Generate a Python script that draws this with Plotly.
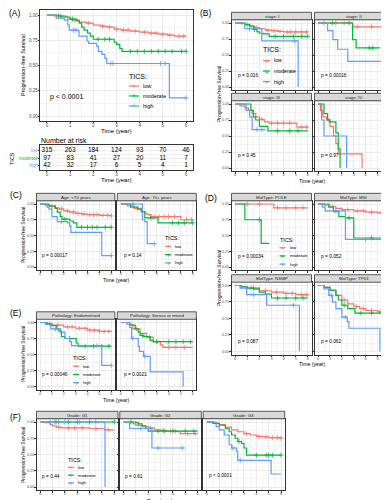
import plotly.graph_objects as go

# ---------------- data ----------------
GROUPS = ["low", "moderate", "high"]
COLORS = {"low": "#F8766D", "moderate": "#00BA38", "high": "#619CFF"}
X_TICKS = [0, 1, 2, 3, 4, 5, 6]
Y_TICKS = [0, 0.25, 0.5, 0.75, 1.0]
Y_TICKTEXT = ["0.00", "0.25", "0.50", "0.75", "1.00"]

# each curve: (step times, survival after step, censor times)
A_LOW = ([0, 0.3, 0.6, 0.9, 1.1, 1.4, 1.7, 2.0, 2.3, 2.6, 2.9, 3.2, 3.6, 4.0, 4.4, 4.8, 5.2, 5.5, 6.0],
         [1, 0.99, 0.98, 0.96, 0.95, 0.93, 0.92, 0.90, 0.89, 0.88, 0.86, 0.85, 0.84, 0.83, 0.82, 0.81, 0.80, 0.79, 0.79],
         [0.5, 1.2, 1.8, 2.4, 2.7, 3.0, 3.3, 3.5, 3.8, 4.2, 4.5, 4.7, 5.0, 5.3, 5.7, 5.9])
A_MOD = ([0, 0.5, 0.8, 1.0, 1.3, 1.4, 1.5, 1.6, 1.75, 1.87, 2.0, 2.9, 3.0, 3.14, 3.24, 6.0],
         [1, 0.99, 0.98, 0.96, 0.94, 0.92, 0.88, 0.85, 0.82, 0.79, 0.76, 0.73, 0.71, 0.67, 0.64, 0.64],
         [0.6, 1.1, 2.2, 2.5, 2.7, 3.6, 3.9, 4.2, 4.5, 4.8, 5.1, 5.4, 5.8, 6.0])
A_HIGH = ([0, 0.4, 0.75, 0.9, 0.96, 1.38, 1.73, 1.8, 2.15, 2.22, 2.37, 2.5, 2.58, 5.28, 6.0],
          [1, 0.97, 0.95, 0.90, 0.85, 0.79, 0.74, 0.72, 0.69, 0.64, 0.61, 0.57, 0.52, 0.18, 0.18],
          [1.15, 1.25, 2.75, 2.85, 4.9, 5.1, 6.0])

RISK_TIMES = [0, 1, 2, 3, 4, 5, 6]
RISK_LOW = [315, 263, 184, 124, 93, 70, 46]
RISK_MOD = [97, 83, 41, 27, 20, 11, 7]
RISK_HIGH = [42, 32, 17, 6, 5, 4, 1]

B1_LOW = ([0, .4, .8, 1.2, 1.6, 2.0, 2.5, 3.0, 3.5, 4.0, 6.0], [1, .99, .97, .95, .93, .91, .89, .88, .87, .86, .86],
          [1.0, 1.8, 2.7, 3.2, 3.7, 4.3, 4.6, 5.0, 5.5, 5.9])
B1_MOD = ([0, .8, 1.2, 1.5, 1.8, 2.0, 2.3, 2.8, 6.0], [1, .98, .95, .90, .86, .84, .83, .79, .79], [1.6, 3.3, 4.0, 4.8, 5.5, 6.0])
B1_HIGH = ([0, .8, 2.2, 5.2], [1, .91, .72, 0], [1.2, 4.9])
B2_LOW = ([0, 2.9, 6.0], [1, .94, .94], [.5, 1.5, 2.2, 3.3, 4.5, 5.8])
B2_MOD = ([0, 2.9, 3.2, 5.2], [1, .74, .61, .61], [1.2, 2.6, 4.3, 4.6])
B2_HIGH = ([0, .8, 1.25, 1.65, 2.5, 6.0], [1, .88, .74, .59, .40, .40], [])
B3_LOW = ([0, .4, .8, 1.1, 1.4, 1.7, 2.0, 2.4, 2.8, 5.1, 6.0], [1, .97, .94, .90, .85, .80, .76, .72, .70, .64, .64],
          [2.2, 3.0, 3.5, 4.0, 4.5, 5.5, 5.9])
B3_MOD = ([0, 1.3, 1.5, 1.7, 2.0, 2.7, 6.0], [1, .90, .80, .75, .65, .58, .58], [3.5, 4.5, 5.2])
B3_HIGH = ([0, .9, 1.2, 1.4, 2.5], [1, .9, .8, .6, .6], [1.8, 2.2])
B4_LOW = ([0, .2, .4, .7, 1.0, 1.3, 1.5, 1.7, 3.7], [1, .9, .8, .75, .65, .5, .38, .22, 0], [.9])
B4_MOD = ([0, .5, .8, 1.0, 1.5, 1.7, 1.85], [1, .85, .75, .72, .55, .3, 0], [])
B4_HIGH = ([0, .3, .5, 2.4], [1, .75, .5, 0], [])

C1_LOW = ([0, .4, .8, 1.2, 1.6, 2.0, 2.5, 3.0, 3.5, 4.0, 5.0, 6.0], [1, .98, .96, .94, .92, .89, .87, .85, .84, .83, .82, .81],
          [1.0, 1.8, 2.3, 2.8, 3.2, 3.7, 4.2, 4.5, 4.8, 5.3, 5.7, 6.0])
C1_MOD = ([0, .75, 1.3, 1.45, 1.7, 1.85, 2.5, 2.8, 3.1, 6.0], [1, .97, .93, .87, .80, .76, .73, .70, .63, .63],
          [2.1, 3.5, 4.0, 4.4, 4.8, 5.5, 6.0])
C1_HIGH = ([0, .6, .75, 1.0, 1.45, 2.3, 2.5, 2.6, 5.2, 6.0], [1, .95, .92, .80, .72, .70, .65, .55, .18, .18], [1.8, 6.0])
C2_LOW = ([0, .55, 1.1, 1.7, 2.0, 2.2, 2.5, 5.0, 6.0], [1, .97, .93, .88, .85, .83, .80, .75, .74],
          [1.4, 2.8, 3.2, 3.6, 4.0, 4.5, 5.5, 5.9])
C2_MOD = ([0, .8, 1.4, 1.7, 2.0, 3.1, 6.0], [1, .95, .92, .88, .78, .70, .70], [2.5, 4.3, 4.8, 5.3, 6.0])
C2_HIGH = ([0, 1.8, 2.0, 2.2, 2.8], [1, .75, .72, .37, .37], [1.0, 2.8])

D1_LOW = ([0, 3.2, 6.0], [1, .94, .94], [1.0, 2.0, 3.5, 4.2, 5.0, 5.6])
D1_MOD = ([0, .8, 2.15, 2.8], [1, .75, .375, .375], [2.0])
D1_HIGH = ([], [], [])
D2_LOW = ([0, .5, 1.0, 1.5, 2.0, 3.0, 4.0, 5.0, 6.0], [1, .98, .96, .93, .91, .89, .87, .86, .86],
          [1.2, 2.5, 3.3, 3.8, 4.5, 5.3, 5.8])
D2_MOD = ([0, .9, 1.3, 1.75, 2.3, 3.0, 6.0], [1, .95, .88, .80, .78, .46, .46], [2.6, 4.5, 5.5])
D2_HIGH = ([0, .35, .6, 2.3, 6.0], [1, .95, .89, .44, .44], [1.5, 4.0])
D3_LOW = ([0, .5, 1.0, 1.5, 2.0, 3.0, 4.0, 5.0, 6.0], [1, .98, .96, .94, .92, .90, .88, .86, .85],
          [1.3, 2.5, 3.4, 4.2, 4.7, 5.5, 5.9])
D3_MOD = ([0, .5, 1.0, 2.0, 2.5, 3.0, 6.0], [1, .98, .96, .90, .87, .81, .81], [1.5, 3.5, 4.2, 5.0, 5.6])
D3_HIGH = ([0, .4, .95, 2.6, 5.3], [1, .96, .86, .70, 0], [1.5, 4.8])
D4_LOW = ([0, .5, 1.0, 1.5, 2.0, 2.5, 3.0, 3.5, 4.0, 5.0, 6.0], [1, .97, .92, .85, .78, .72, .68, .65, .62, .60, .59],
          [2.2, 3.2, 3.8, 4.5, 5.2, 5.8])
D4_MOD = ([0, .5, 1.0, 1.5, 1.7, 2.0, 2.5, 3.1, 6.0], [1, .97, .93, .85, .78, .70, .65, .58, .58], [2.2, 3.6, 4.5, 5.5])
D4_HIGH = ([0, .5, .9, 1.2, 1.5, 2.0, 2.45, 2.6, 5.2], [1, .95, .85, .75, .65, .52, .45, .35, 0], [1.1, 2.3])

E1_LOW = ([0, .5, 1, 2, 3, 4, 5, 6], [1, .98, .96, .93, .91, .88, .86, .85],
          [.8, 1.5, 2.3, 2.7, 3.3, 3.8, 4.2, 4.6, 5.0, 5.4, 5.8])
E1_MOD = ([0, .6, 1.0, 1.4, 1.7, 1.8, 2.1, 3.05, 3.2, 6.0], [1, .98, .95, .90, .85, .78, .75, .68, .63, .63],
          [2.5, 3.8, 4.5, 5.2, 5.8])
E1_HIGH = ([0, .45, .9, 1.55, 1.8, 2.1, 2.5, 2.65, 5.2, 6.0], [1, .97, .90, .87, .85, .75, .70, .64, .33, .33], [1.3, 4.8, 6.0])
E2_LOW = ([0, .5, 1.0, 1.6, 2.15, 2.7, 3.3, 3.5, 6.0], [1, .97, .90, .83, .77, .70, .65, .61, .61], [1.3, 2.4, 3.0, 4.0, 4.6, 5.3])
E2_MOD = ([0, .75, 1.2, 1.45, 1.6, 1.9, 2.45, 2.7, 6.0], [1, .96, .90, .85, .80, .78, .72, .70, .70],
          [1.8, 3.0, 4.0, 4.6, 5.2, 5.8])
E2_HIGH = ([0, .75, .9, 1.45, 1.55, 1.9, 2.45, 5.2], [1, .92, .75, .63, .55, .47, .23, 0], [1.0, 2.0])

F1_LOW = ([0, .3, .8, 1.0, 1.3, 1.7, 4.0, 5.2, 6.0], [1, .99, .96, .94, .92, .91, .90, .88, .88], [1.5, 2.3, 2.8, 3.4, 4.5, 5.5])
F1_MOD = ([0, 6.0], [1, 1], [1.2, 1.5, 2.3, 3.0, 4.0, 6.0])
F1_HIGH = ([0, 5.25], [1, 0], [.8, 1.3, 2.0, 3.2, 4.5])
F2_LOW = ([0, .3, .8, 1.0, 1.5, 2.0, 2.5, 3.0, 3.5, 4.4, 4.6, 6.0], [1, .99, .97, .95, .93, .91, .88, .87, .86, .85, .82, .82],
          [1.2, 2.2, 3.2, 3.8, 4.2, 5.2, 5.8])
F2_MOD = ([0, 1.0, 1.2, 1.5, 1.8, 2.0, 6.0], [1, .99, .97, .94, .90, .86, .86], [.6, 2.8, 3.3, 4.0, 5.0, 5.7])
F2_HIGH = ([0, .5, 2.3, 4.8], [1, .90, .60, .60], [1.4, 2.8, 4.8])
F3_LOW = ([0, .5, 1, 1.5, 2, 2.5, 3, 3.5, 4, 4.5, 5, 6], [1, .98, .96, .92, .88, .85, .82, .80, .78, .77, .76, .75],
          [3.2, 4.2, 4.8, 5.3, 5.7, 6.0])
F3_MOD = ([0, .5, 1, 1.5, 1.8, 2, 2.3, 2.5, 2.8, 3.0, 3.2, 6], [1, .98, .95, .90, .85, .80, .75, .70, .67, .60, .49, .49],
          [2.6, 4.0, 4.8, 5.0, 5.3, 6.0])
F3_HIGH = ([0, .75, 1.0, 1.4, 1.8, 2.0, 2.4, 2.5, 5.2, 6.0], [1, .93, .88, .80, .65, .60, .55, .41, .20, .20], [2.1, 2.7])

# ---------------- layout helpers ----------------
W, H = 389, 500
FONT = "Liberation Sans, Arial, sans-serif"
BORDER = "#333333"
GRID = "#EBEBEB"
TICKC = "#4D4D4D"

fig = go.Figure()
layout = {}
shapes = []
annots = []
count = [0]


def px(x):
    return x / W


def py(y):
    return 1 - y / H


def text(x, y, s, size, color="black", xa="center", ya="middle", angle=0):
    annots.append(dict(x=px(x), y=py(y), xref="paper", yref="paper", text=s, showarrow=False,
                       xanchor=xa, yanchor=ya, textangle=angle, borderpad=0,
                       font=dict(size=size, color=color, family=FONT)))


def panel(box, curves=None, xlab=True, ylab=True, strip=None, tick_size=4.2, yrange=(-0.05, 1.05),
          ytickvals=Y_TICKS, yticktext=Y_TICKTEXT, yminor=0.125):
    x0, x1, y1p, y0p = box
    span = y0p - y1p
    top = y1p - 0.05 * span
    bot = y0p + 0.05 * span
    count[0] += 1
    n = count[0]
    sx = "" if n == 1 else str(n)
    layout["xaxis" + sx] = dict(
        domain=[px(x0), px(x1)], range=[-0.3, 6.3], anchor="y" + sx,
        tickmode="array", tickvals=X_TICKS, ticktext=[str(v) for v in X_TICKS],
        showticklabels=xlab, ticks="outside", ticklen=1.5, tickwidth=0.6, tickcolor=BORDER,
        ticklabelstandoff=-2,
        tickfont=dict(size=tick_size, color=TICKC, family=FONT),
        showgrid=True, gridcolor=GRID, gridwidth=0.8, zeroline=False,
        minor=dict(tickmode="linear", tick0=0, dtick=0.5, showgrid=True, gridcolor="#F3F3F3", gridwidth=0.4),
        showline=True, mirror=True, linecolor=BORDER, linewidth=0.8, fixedrange=True)
    layout["yaxis" + sx] = dict(
        domain=[py(bot), py(top)], range=list(yrange), anchor="x" + sx,
        tickmode="array", tickvals=ytickvals, ticktext=yticktext,
        showticklabels=ylab, ticks="outside", ticklen=1.5, tickwidth=0.6, tickcolor=BORDER,
        ticklabelstandoff=-1,
        tickfont=dict(size=tick_size, color=TICKC, family=FONT),
        showgrid=True, gridcolor=GRID, gridwidth=0.8, zeroline=False,
        minor=dict(tickmode="linear", tick0=0, dtick=yminor, showgrid=True, gridcolor="#F3F3F3", gridwidth=0.4),
        showline=True, mirror=True, linecolor=BORDER, linewidth=0.8, fixedrange=True)
    if strip:
        shapes.append(dict(type="rect", xref="paper", yref="paper", x0=px(x0), x1=px(x1),
                           y0=py(top), y1=py(top - 7.5), fillcolor="#D9D9D9",
                           line=dict(color=BORDER, width=0.8), layer="above"))
        text((x0 + x1) / 2, top - 3.75, strip, 4.4, "#1A1A1A")
    if curves:
        for g, cur in zip(GROUPS, curves):
            t, s, c = cur
            if not t:
                continue
            fig.add_trace(go.Scatter(x=t, y=s, mode="lines", xaxis="x" + sx, yaxis="y" + sx,
                                     line=dict(color=COLORS[g], width=1.2, shape="hv"),
                                     showlegend=False, hoverinfo="skip"))
            if c:
                cy = []
                for ct in c:
                    idx = max(i for i, tv in enumerate(t) if tv <= ct)
                    cy.append(s[idx])
                fig.add_trace(go.Scatter(x=c, y=cy, mode="markers", xaxis="x" + sx, yaxis="y" + sx,
                                         marker=dict(symbol="cross-thin", size=3.5, color=COLORS[g],
                                                     line=dict(color=COLORS[g], width=0.8)),
                                         showlegend=False, hoverinfo="skip"))
    return sx


def legend(x, y, dy, title_size, item_size, line_len, bg=None):
    if bg:
        shapes.append(dict(type="rect", xref="paper", yref="paper", x0=px(bg[0]), x1=px(bg[1]),
                           y0=py(bg[3]), y1=py(bg[2]), fillcolor="white", line=dict(width=0), layer="below"))
    text(x, y, "TICS:", title_size, "black", xa="left")
    for i, g in enumerate(GROUPS):
        yy = y + dy * (i + 1)
        shapes.append(dict(type="line", xref="paper", yref="paper", x0=px(x + 1), x1=px(x + 1 + line_len),
                           y0=py(yy), y1=py(yy), line=dict(color=COLORS[g], width=1.2), layer="above"))
        text(x + 1 + line_len / 2, yy, "+", item_size + 1, COLORS[g])
        text(x + line_len + 4, yy, g, item_size, "black", xa="left")


YT = "Progression-free Survival"

# ---------------- panel A ----------------
panel((32, 185, 7, 108), [A_LOW, A_MOD, A_HIGH], tick_size=4.5)
text(0, 5, "(A)", 8.5, xa="left")
text(15, 57, YT, 5.5, angle=-90)
text(108.5, 123, "Time (year)", 6)
text(41, 89, "p &lt; 0.0001", 7, xa="left")
legend(120, 68, 10, 7, 5.5, 10, bg=(117, 165, 61, 104))

# risk table
sx = panel((32, 185, 140.3, 158.3), None, tick_size=4.5, yrange=(0.45, 3.75),
           ytickvals=[1, 2, 3],
           yticktext=['<span style="color:#619CFF">high</span>', '<span style="color:#00BA38">moderate</span>',
                      '<span style="color:#F8766D">low</span>'], yminor=0.5)
layout["yaxis" + sx]["domain"] = [py(162), py(137)]
layout["yaxis" + sx]["tickfont"]["size"] = 4.5
for row, vals in zip([3, 2, 1], [RISK_LOW, RISK_MOD, RISK_HIGH]):
    fig.add_trace(go.Scatter(x=RISK_TIMES, y=[row] * len(vals), mode="text", text=[str(v) for v in vals],
                             textfont=dict(size=6.5, color="black", family=FONT), xaxis="x" + sx, yaxis="y" + sx,
                             showlegend=False, hoverinfo="skip"))
text(32, 132, "Number at risk", 7, xa="left")
text(4, 150, "TICS", 5.5, angle=-90)
text(108.5, 172, "Time (year)", 6)

# ---------------- panel B ----------------
text(191, 5, "(B)", 8.5, xa="left")
panel((223.5, 303.5, 15, 79), [B1_LOW, B1_MOD, B1_HIGH], xlab=False, strip="stage: I", tick_size=3.8)
panel((306.5, 385, 15, 79), [B2_LOW, B2_MOD, B2_HIGH], xlab=False, ylab=False, strip="stage: II", tick_size=3.8)
panel((223.5, 303.5, 96, 160), [B3_LOW, B3_MOD, B3_HIGH], strip="stage: III", tick_size=3.8)
panel((306.5, 385, 96, 160), [B4_LOW, B4_MOD, B4_HIGH], ylab=False, strip="stage: IV", tick_size=3.8)
text(229, 67, "p = 0.016", 4.8, xa="left")
text(312, 67, "p = 0.00016", 4.8, xa="left")
text(229, 147, "p = 0.45", 4.8, xa="left")
text(312, 147, "p = 0.97", 4.8, xa="left")
legend(254, 42, 10.5, 7, 5.2, 7, bg=(251, 300, 36, 78))
text(211, 86, YT, 5, angle=-90)
text(304, 173, "Time (year)", 5.2)

# ---------------- panel C ----------------
text(1, 187, "(C)", 8.5, xa="left")
panel((28.5, 106.8, 196, 259), [C1_LOW, C1_MOD, C1_HIGH], strip="Age: <70 years", tick_size=3.8)
panel((109.3, 188.3, 196, 259), [C2_LOW, C2_MOD, C2_HIGH], ylab=False, strip="Age: 70+ years", tick_size=3.8)
text(33, 247, "p = 0.00017", 4.8, xa="left")
text(115, 247, "p = 0.14", 4.8, xa="left")
legend(156, 230, 8.3, 5.5, 4.2, 6, bg=(154, 185, 225, 259))
text(15, 227, YT, 5, angle=-90)
text(108, 272, "Time (year)", 5.2)

# ---------------- panel D ----------------
text(196, 190, "(D)", 8.5, xa="left")
panel((223.5, 303.5, 196, 259), [D1_LOW, D1_MOD, D1_HIGH], xlab=False, strip="MolType: POLE", tick_size=3.8)
panel((306.5, 385, 196, 259), [D2_LOW, D2_MOD, D2_HIGH], xlab=False, ylab=False, strip="MolType: MSI", tick_size=3.8)
panel((223.5, 303.5, 277.5, 343.3), [D3_LOW, D3_MOD, D3_HIGH], strip="MolType: NSMP", tick_size=3.8)
panel((306.5, 385, 277.5, 343.3), [D4_LOW, D4_MOD, D4_HIGH], ylab=False, strip="MolType: TP53", tick_size=3.8)
text(229, 248, "p = 0.00034", 4.8, xa="left")
text(312, 248, "p = 0.052", 4.8, xa="left")
text(229, 333, "p = 0.087", 4.8, xa="left")
text(312, 333, "p = 0.062", 4.8, xa="left")
legend(270.5, 231.5, 8.2, 5.5, 4.2, 6, bg=(268, 300, 226, 260))
text(211, 270, YT, 5, angle=-90)
text(304, 356, "Time (year)", 5.2)

# ---------------- panel E ----------------
text(1, 305, "(E)", 8.5, xa="left")
panel((28.5, 106.8, 314.5, 378.5), [E1_LOW, E1_MOD, E1_HIGH], strip="Pathology: Endometrioid", tick_size=3.8)
panel((109.3, 188.3, 314.5, 378.5), [E2_LOW, E2_MOD, E2_HIGH], ylab=False, strip="Pathology: Serous or mixed", tick_size=3.8)
text(33, 366, "p = 0.00046", 4.8, xa="left")
text(115, 366, "p = 0.0021", 4.8, xa="left")
legend(64, 350, 8.2, 5.5, 4.2, 6, bg=(62, 92, 345, 378))
text(15, 346, YT, 5, angle=-90)
text(108, 391.5, "Time (year)", 5.2)

# ---------------- panel F ----------------
text(1, 409, "(F)", 8.5, xa="left")
panel((28.5, 110, 414, 479), [F1_LOW, F1_MOD, F1_HIGH], strip="Grade: G1", tick_size=3.8)
panel((111.8, 193.3, 414, 479), [F2_LOW, F2_MOD, F2_HIGH], ylab=False, strip="Grade: G2", tick_size=3.8)
panel((195.2, 276.7, 414, 479), [F3_LOW, F3_MOD, F3_HIGH], ylab=False, strip="Grade: G3", tick_size=3.8)
text(33, 468, "p = 0.44", 4.8, xa="left")
text(116, 468, "p = 0.61", 4.8, xa="left")
text(200, 467, "p &lt; 0.0001", 4.8, xa="left")
legend(59, 451.5, 7.8, 5.5, 4.2, 6, bg=(57, 90, 446, 479))
text(15, 447, YT, 5, angle=-90)
text(152, 492.5, "Time (year)", 5)

fig.update_layout(width=W, height=H, margin=dict(l=0, r=0, t=0, b=0),
                  paper_bgcolor="white", plot_bgcolor="white", showlegend=False,
                  shapes=shapes, annotations=annots, font=dict(family=FONT), **layout)
fig.write_html("out.html")
